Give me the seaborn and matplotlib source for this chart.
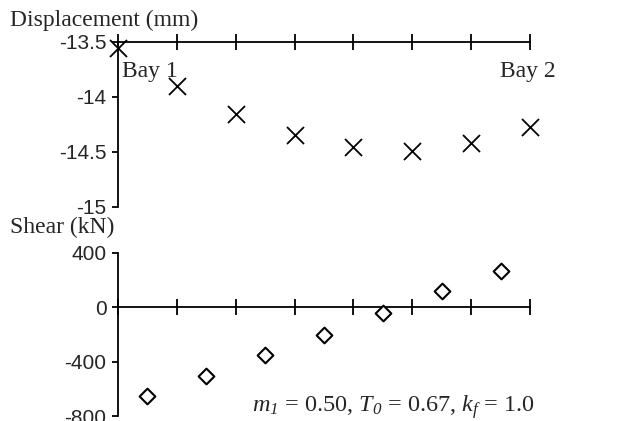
import matplotlib
matplotlib.use("Agg")
import matplotlib.pyplot as plt
import numpy as np
import pandas as pd
import seaborn as sns

# ---- data ----
disp_positions = [0, 1, 2, 3, 4, 5, 6, 7]
displacement = [-13.56, -13.90, -14.16, -14.35, -14.46, -14.49, -14.42, -14.28]
shear_positions = [0.5, 1.5, 2.5, 3.5, 4.5, 5.5, 6.5]
shear = [-650, -509, -349, -202, -43, 116, 268]
disp_ticks = [-15, -14.5, -14, -13.5]
disp_ticklabels = ["-15", "-14.5", "-14", "-13.5"]
shear_ticks = [-800, -400, 0, 400]
shear_ticklabels = ["-800", "-400", "0", "400"]
x_ticks = [0, 1, 2, 3, 4, 5, 6, 7]

sns.set_style("white")
plt.rcParams["font.family"] = ["Liberation Sans", "DejaVu Sans"]
plt.rcParams["axes.unicode_minus"] = False
plt.rcParams["mathtext.fontset"] = "custom"
plt.rcParams["mathtext.rm"] = "Liberation Serif:italic"
plt.rcParams["mathtext.it"] = "Liberation Serif:italic"

W, H = 624, 421
fig = plt.figure(figsize=(W / 100, H / 100), dpi=100)

def fx(px):
    return px / W

def fy(py):
    return 1 - py / H

L, R = 118, 530
ax1 = fig.add_axes([fx(L), fy(206.7), fx(R) - fx(L), fy(41.7) - fy(206.7)])
ax2 = fig.add_axes([fx(L), fy(416), fx(R) - fx(L), fy(252.7) - fy(416)])

df1 = pd.DataFrame({"pos": disp_positions, "disp": displacement})
df2 = pd.DataFrame({"pos": shear_positions, "shear": shear})

sns.scatterplot(data=df1, x="pos", y="disp", marker="x", s=150, color="black",
                linewidth=1.3, ax=ax1, clip_on=False, zorder=5)
sns.scatterplot(data=df2, x="pos", y="shear", marker="D", s=64, facecolor="white",
                edgecolor="black", linewidth=1.5, ax=ax2, clip_on=False, zorder=5)

lw = 1.3
tick_font = 15

# top panel
ax1.set_xlim(0, 7)
ax1.set_ylim(-15, -13.5)
for s in ["right", "bottom"]:
    ax1.spines[s].set_visible(False)
for s in ["left", "top"]:
    ax1.spines[s].set_linewidth(lw)
    ax1.spines[s].set_color("black")
ax1.xaxis.tick_top()
ax1.set_xticks(x_ticks)
ax1.tick_params(axis="x", direction="inout", length=12, width=lw, color="black",
                labeltop=False, labelbottom=False, top=True, bottom=False)
ax1.set_yticks(disp_ticks)
ax1.set_yticklabels(disp_ticklabels)
ax1.tick_params(axis="y", direction="out", length=4.3, width=lw, color="black",
                labelsize=tick_font, pad=4, left=True)
ax1.set_xlabel("")
ax1.set_ylabel("")

# bottom panel
ax2.set_xlim(0, 7)
ax2.set_ylim(-800, 400)
for s in ["right", "top"]:
    ax2.spines[s].set_visible(False)
ax2.spines["bottom"].set_position(("data", 0))
for s in ["left", "bottom"]:
    ax2.spines[s].set_linewidth(lw)
    ax2.spines[s].set_color("black")
ax2.set_xticks(x_ticks)
ax2.tick_params(axis="x", direction="inout", length=12, width=lw, color="black",
                labelbottom=False, bottom=True)
ax2.set_yticks(shear_ticks)
ax2.set_yticklabels(shear_ticklabels)
ax2.tick_params(axis="y", direction="out", length=4.3, width=lw, color="black",
                labelsize=tick_font, pad=4, left=True)
ax2.set_xlabel("")
ax2.set_ylabel("")

serif = ["Liberation Serif", "DejaVu Serif"]
ts = 17
fig.text(fx(10), fy(20), "Displacement (mm)", family=serif, fontsize=ts, va="center", ha="left")
fig.text(fx(10), fy(227), "Shear (kN)", family=serif, fontsize=ts, va="center", ha="left")
fig.text(fx(122), fy(71), "Bay 1", family=serif, fontsize=ts, va="center", ha="left")
fig.text(fx(500), fy(71), "Bay 2", family=serif, fontsize=ts, va="center", ha="left")
fig.text(fx(252), fy(412),
         r"$m_{1}$ = 0.50, $T_{0}$ = 0.67, $k_{f}$ = 1.0",
         family=serif, fontsize=17.5, va="baseline", ha="left")

fig.savefig("out.png", dpi=100)
